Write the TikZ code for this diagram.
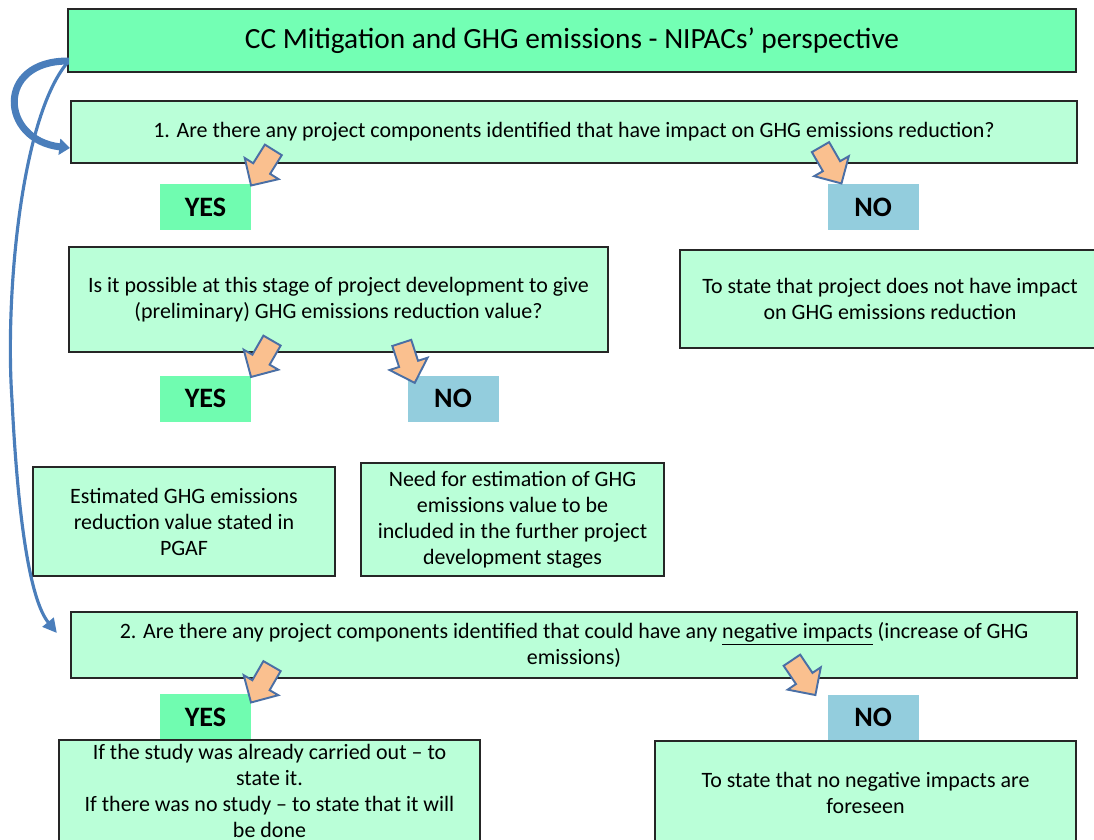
\documentclass[tikz,border=0pt]{standalone}
\usepackage{fontspec}
\setmainfont{Carlito}
\usetikzlibrary{shapes.arrows,calc,positioning,arrows.meta}
\definecolor{titlefill}{HTML}{73FFB4}
\definecolor{boxfill}{HTML}{BAFFD8}
\definecolor{yesfill}{HTML}{70FCB0}
\definecolor{nofill}{HTML}{93CDDD}
\definecolor{arrowfill}{HTML}{FAC08F}
\definecolor{arrowline}{HTML}{4A6FA5}
\definecolor{curveblue}{HTML}{4A7EBB}

\begin{document}
\begin{tikzpicture}
[x=0.02cm,y=-0.02cm,
 box/.style = {draw=black!85, line width=1.4pt, fill=boxfill, align=center, inner sep=0pt, font=\fontsize{12.5}{14.8}\selectfont},
 answer/.style = {minimum width=1.82cm, minimum height=0.92cm, inner sep=0pt, font=\fontsize{16}{18}\selectfont\bfseries},
 blockarr/.style = {single arrow, draw=arrowline, fill=arrowfill, line width=1.1pt, minimum height=0.84cm, single arrow head extend=0.2cm, inner xsep=0pt, inner ysep=0.18cm, anchor=tip},
 curve/.style = {draw=curveblue},]
\useasboundingbox (0,0) rectangle (1094,839);
% header and questions
\node (title) at (572,40.5)[box, fill=titlefill, line width=1.2pt, minimum width=20.16cm, minimum height=1.26cm, font=\fontsize{16.7}{18}\selectfont] {CC Mitigation and GHG emissions - NIPACs' perspective};
\node (q1) at (574,132)[box, minimum width=20.12cm, minimum height=1.24cm] {1. Are there any project components identified that have impact on GHG emissions reduction?};
\node (q2) at (574,645)[box, minimum width=20.12cm, minimum height=1.32cm] {2. Are there any project components identified that could have any \underline{negative impacts} (increase of GHG\\emissions)};
% answers
\node (yes1) at (205.5,207)[answer, fill=yesfill] {YES};
\node (no1) at (873,207)[answer, fill=nofill] {NO};
\node (yes2) at (205.5,398.5)[answer, fill=yesfill] {YES};
\node (no2) at (453,398.5)[answer, fill=nofill] {NO};
\node (yes3) at (205.5,717)[answer, fill=yesfill] {YES};
\node (no3) at (873,717.5)[answer, fill=nofill] {NO};
% outcome boxes
\node (poss) at (338.5,299.5)[box, minimum width=10.78cm, minimum height=2.1cm] {Is it possible at this stage of project development to give\\(preliminary) GHG emissions reduction value?};
\node (noimp) at (890,299)[box, minimum width=8.4cm, minimum height=1.96cm] {To state that project does not have impact\\on GHG emissions reduction};
\node (est) at (184,521.5)[box, minimum width=6.04cm, minimum height=2.18cm] {Estimated GHG emissions\\reduction value stated in\\PGAF};
\node (need) at (512.5,519.5)[box, minimum width=6.06cm, minimum height=2.26cm] {Need for estimation of GHG\\emissions value to be\\included in the further project\\development stages};
\node (study) at (269.5,791)[box, minimum width=8.42cm, minimum height=2.04cm] {If the study was already carried out -- to\\state it.\\If there was no study -- to state that it will\\be done};
\node (nofore) at (865.5,793)[box, minimum width=8.42cm, minimum height=2.08cm] {To state that no negative impacts are\\foreseen};
% block arrows
\node (a1) at ($(yes1.north east)+(-1,3)$)[blockarr, rotate=238] {};
\node (a2) at ($(no1.north west)+(15,1)$)[blockarr, rotate=300] {};
\node (a3) at ($(yes2.north east)+(-1,3)$)[blockarr, rotate=240] {};
\node (a4) at ($(no2.north west)+(8,9)$)[blockarr, rotate=288] {};
\node (a5) at ($(yes3.north east)+(-1,10)$)[blockarr, rotate=240] {};
\node (a6) at ($(no3.north west)+(-11,2)$)[blockarr, rotate=304] {};
% curved arrows
\draw[curve, line width=4pt, -{Triangle[length=6pt,width=9pt]}] ($(title.south west)+(2,-12)$) .. controls (-5,60) and (0,140) .. ($(q1.west)+(0,16)$);
\draw[curve, line width=1.8pt, -{Triangle[length=8pt,width=8pt]}] ($(title.south west)+(0,-10)$) .. controls (20,120) and (5,300) .. (12,400) .. controls (18,520) and (30,600) .. ($(q2.west)+(-13,-12)$);
\end{tikzpicture}
\end{document}
